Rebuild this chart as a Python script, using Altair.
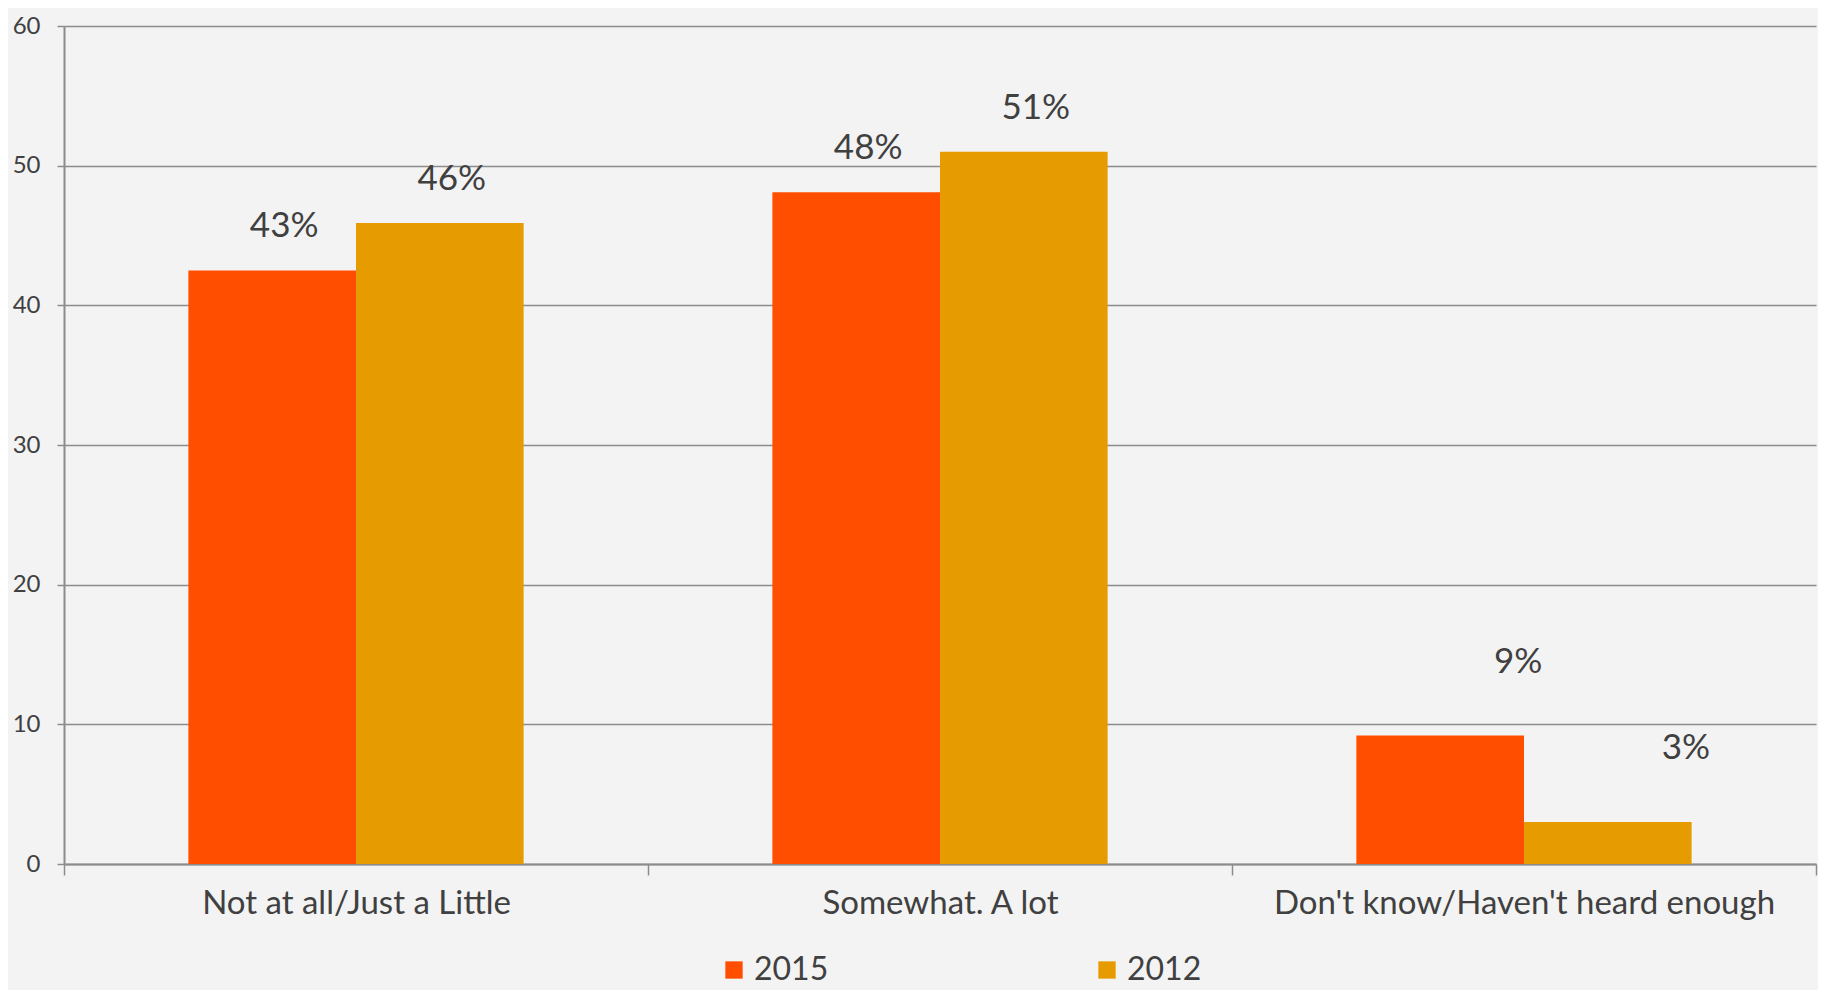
import altair as alt
import pandas as pd

categories = ["Not at all/Just a Little", "Somewhat. A lot", "Don't know/Haven't heard enough"]
years = ["2015", "2012"]
values_2015 = [42.5, 48.1, 9.2]
values_2012 = [45.9, 51.0, 3.0]
labels_2015 = ["43%", "48%", "9%"]
labels_2012 = ["46%", "51%", "3%"]
colors = ["#FF4E00", "#E69C00"]
y_ticks = [0, 10, 20, 30, 40, 50, 60]

rows = []
for i, c in enumerate(categories):
    rows.append({"category": c, "year": "2015", "value": values_2015[i], "label": labels_2015[i]})
    rows.append({"category": c, "year": "2012", "value": values_2012[i], "label": labels_2012[i]})
df = pd.DataFrame(rows)

FONT = "Lato"
TXT = "#404040"
GRID = "#8c8c8c"

base = alt.Chart(df).encode(
    x=alt.X(
        "category:N",
        sort=categories,
        scale=alt.Scale(paddingInner=0, paddingOuter=0),
        axis=alt.Axis(
            title=None,
            labelAngle=0,
            labelLimit=0,
            tickBand="extent",
            tickSize=11,
            tickColor=GRID,
            tickWidth=1.5,
            domainColor=GRID,
            domainWidth=2,
            labelFontSize=33,
            labelFont=FONT,
            labelColor=TXT,
            labelPadding=12,
            grid=False,
        ),
    ),
    xOffset=alt.XOffset("year:N", sort=years, scale=alt.Scale(paddingInner=0, paddingOuter=0.742)),
    y=alt.Y(
        "value:Q",
        scale=alt.Scale(domain=[0, 60], nice=False),
        axis=alt.Axis(
            title=None,
            values=y_ticks,
            grid=True,
            gridColor=GRID,
            gridWidth=1.5,
            domainColor=GRID,
            domainWidth=2,
            tickColor=GRID,
            tickWidth=1.5,
            tickSize=7,
            labelFontSize=24,
            labelFont=FONT,
            labelColor=TXT,
            labelPadding=17,
        ),
    ),
)

bars = base.mark_bar().encode(
    color=alt.Color(
        "year:N",
        sort=years,
        scale=alt.Scale(domain=years, range=colors),
        legend=alt.Legend(
            title=None,
            orient="none",
            legendX=654,
            legendY=928,
            direction="horizontal",
            symbolType="square",
            symbolSize=300,
            symbolStrokeWidth=0,
            symbolOpacity=1,
            labelFontSize=32,
            labelFont=FONT,
            labelColor=TXT,
            labelOffset=4,
            columnPadding=262,
            padding=0,
        ),
    )
)

text_main = base.transform_filter(
    alt.datum.category != categories[2]
).mark_text(
    dy=-33, dx=12, fontSize=35, font=FONT, color=TXT, baseline="alphabetic", align="center"
).encode(text="label:N")

text_last = base.transform_filter(
    alt.datum.category == categories[2]
).mark_text(
    dy=-63, dx=78, fontSize=35, font=FONT, color=TXT, baseline="alphabetic", align="center"
).encode(text="label:N")

chart = (
    alt.layer(bars, text_main, text_last)
    .properties(
        width=1752,
        height=838,
        padding={"left": 56, "top": 18, "right": 2, "bottom": 126},
        autosize=alt.AutoSizeParams(type="none"),
        background="#f3f3f3",
    )
    .configure_view(stroke=None)
)

chart.save("out.html", embed_options={"renderer": "svg", "actions": False})
